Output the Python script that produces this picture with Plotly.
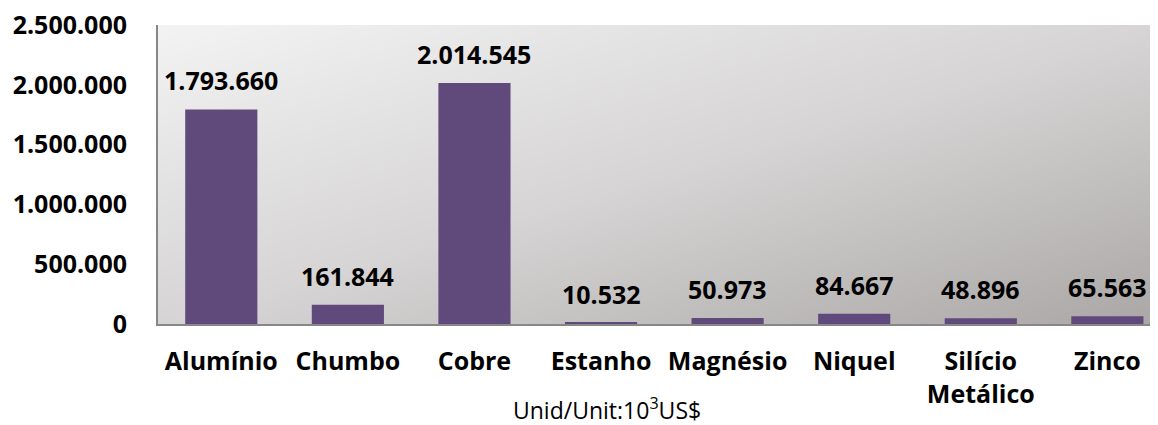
import plotly.graph_objects as go

categories = ["Alumínio", "Chumbo", "Cobre", "Estanho", "Magnésio", "Niquel", "Silício<br>Metálico", "Zinco"]
values = [1793660, 161844, 2014545, 10532, 50973, 84667, 48896, 65563]
value_labels = ["1.793.660", "161.844", "2.014.545", "10.532", "50.973", "84.667", "48.896", "65.563"]
y_ticks = [0, 500000, 1000000, 1500000, 2000000, 2500000]
y_tick_labels = ["0", "500.000", "1.000.000", "1.500.000", "2.000.000", "2.500.000"]

FONT = "Open Sans"
BAR_COLOR = "#604A7B"
FS = 25

# page body has an 8px margin, so the figure is drawn 8px in from the window edge
W, H = 1150, 417
L, T = 150, 17
PLOT_W, PLOT_H = 1000, 299
B = H - T - PLOT_H

fig = go.Figure()

# background gradient (styling only) on the main hidden axes
fig.add_trace(go.Heatmap(
    x=[0, 1], y=[0, 1], z=[[0.5, 1.0], [0.0, 0.5]],
    zmin=0, zmax=1, zsmooth="best", showscale=False, hoverinfo="skip",
    colorscale=[[0, "rgb(243,243,243)"], [0.5, "rgb(214,212,212)"], [1, "rgb(170,166,166)"]],
    xaxis="x", yaxis="y",
))

fig.add_trace(go.Bar(
    x=categories, y=values, marker=dict(color=BAR_COLOR, line=dict(width=0)),
    width=0.57, xaxis="x2", yaxis="y2", hoverinfo="x+y",
))

annotations = []
for c, v, lab in zip(categories, values, value_labels):
    annotations.append(dict(
        x=c, y=v, xref="x2", yref="y2", text=lab, showarrow=False,
        yanchor="bottom", yshift=10,
        font=dict(family=FONT, size=FS, color="black", weight="bold"),
    ))
annotations.append(dict(
    x=(599 - L) / PLOT_W, y=-(401 - (T + PLOT_H)) / PLOT_H, xref="paper", yref="paper",
    xanchor="center", yanchor="middle",
    text="Unid/Unit:10<sup>3</sup>US$",
    showarrow=False, font=dict(family=FONT, size=23, color="black"),
))

fig.update_layout(
    width=W, height=H,
    margin=dict(l=L, r=0, t=T, b=B, autoexpand=False),
    paper_bgcolor="white", plot_bgcolor="rgba(0,0,0,0)",
    showlegend=False,
    xaxis=dict(range=[0, 0.99], visible=False, fixedrange=True, automargin=False),
    yaxis=dict(range=[0, 1], visible=False, fixedrange=True, automargin=False),
    xaxis2=dict(
        overlaying="x", anchor="y2", range=[-0.5, 7.4], automargin=False,
        showline=True, linecolor="#878787", linewidth=2,
        ticks="", showgrid=False, ticklabelstandoff=14, ticklabeloverflow="allow",
        tickfont=dict(family=FONT, size=FS, color="black", weight="bold"),
    ),
    yaxis2=dict(
        overlaying="y", anchor="x2", range=[0, 2500000], automargin=False,
        tickvals=y_ticks, ticktext=y_tick_labels,
        showline=True, linecolor="#878787", linewidth=2,
        ticks="", showgrid=False, zeroline=False, ticklabelstandoff=24,
        ticklabeloverflow="allow",
        tickfont=dict(family=FONT, size=FS, color="black", weight="bold"),
    ),
    annotations=annotations,
)

fig.write_html("out.html")
